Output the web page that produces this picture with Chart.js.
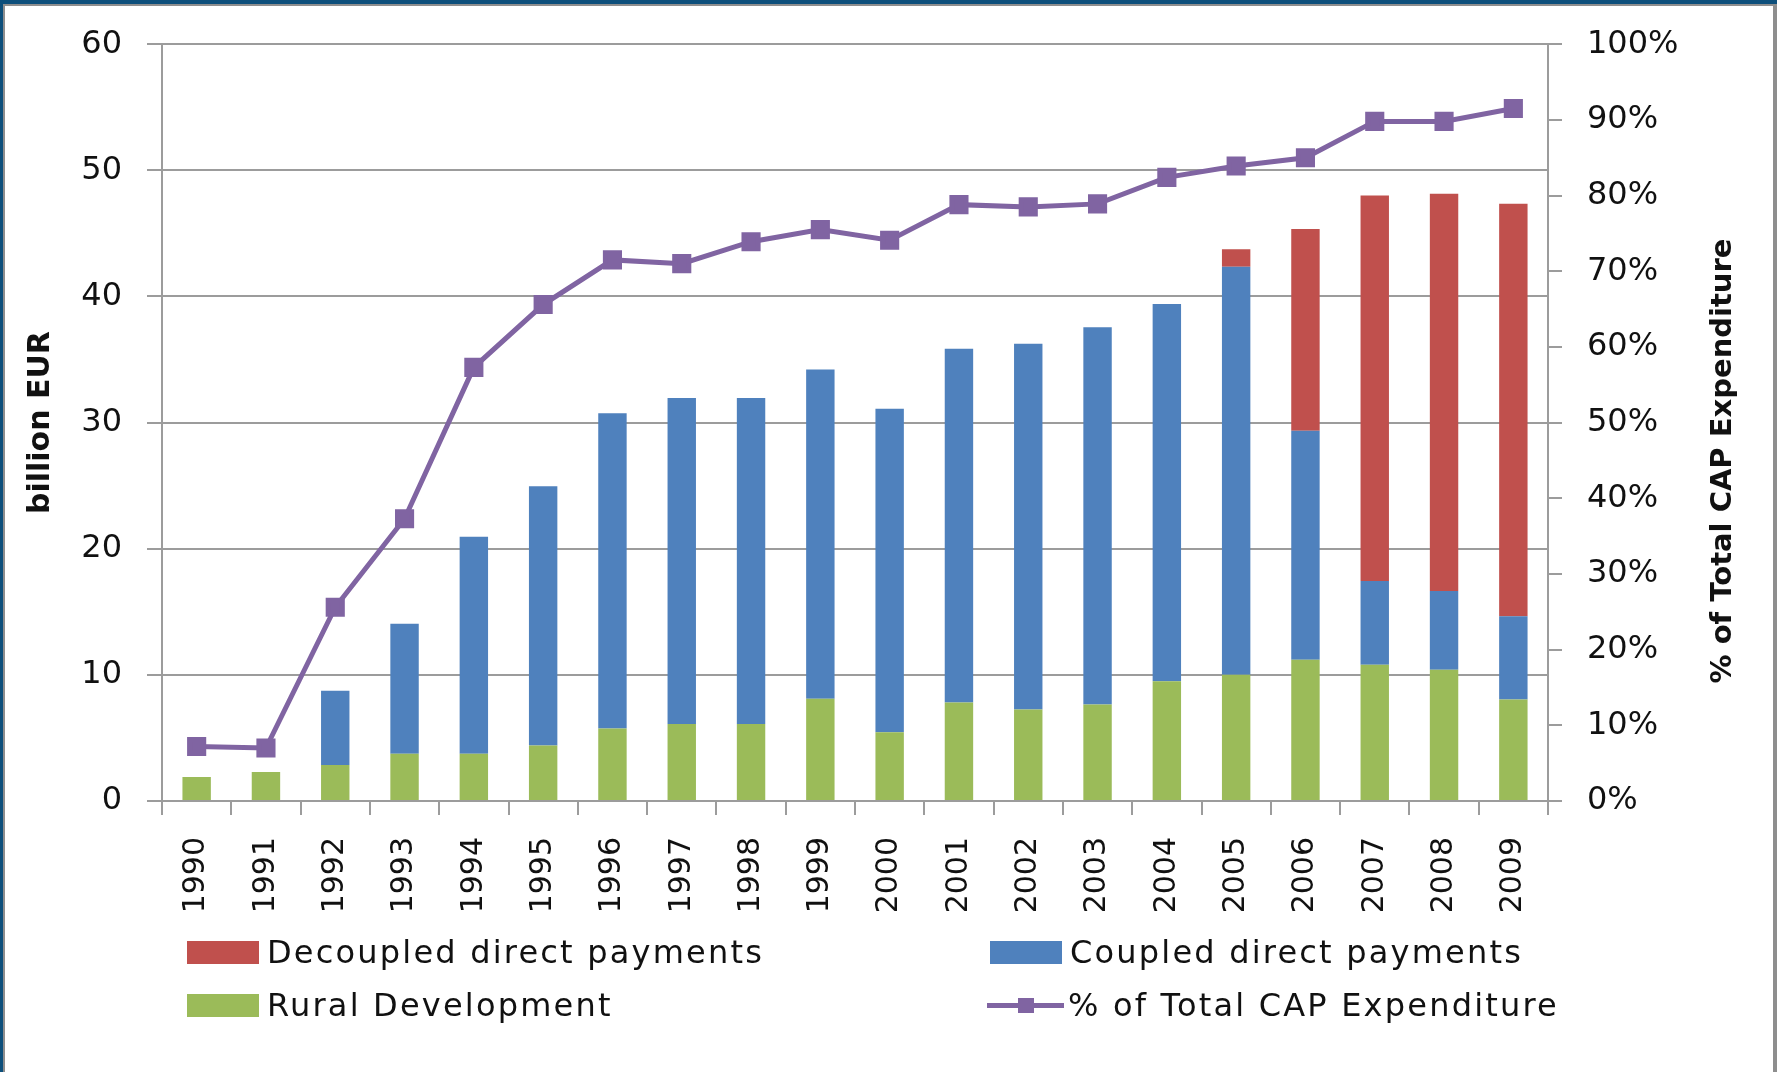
<!DOCTYPE html>
<html lang="en">
<head>
    <meta charset="UTF-8">
    <title>CAP direct payments and rural development</title>
    <script src="https://cdn.jsdelivr.net/npm/chart.js"></script>
    <style>
        body { margin: 0; background: #fff; }
        #wrap { position: relative; width: 1777px; height: 1072px; overflow: hidden; background: #fff; }
        #capChart { position: absolute; left: 0; top: 0; }
        .frame-blue { position: absolute; background: #0d4f7b; }
        .frame-grey { position: absolute; background: #8e8e8e; }
        .legend-item { position: absolute; height: 32px; font: 32px "DejaVu Sans", sans-serif; letter-spacing: 2.2px; color: #111; white-space: nowrap; }
        .legend-item .swatch { position: absolute; top: 5px; width: 72px; height: 23px; }
        .legend-item .lineSw { position: absolute; top: 14px; width: 77px; height: 5px; }
        .legend-item .marker { position: absolute; top: 9px; left: 31px; width: 16px; height: 15px; }
        .legend-item .label { position: absolute; top: 0; line-height: 32px; }
    </style>
</head>
<body>
<div id="wrap">
    <canvas id="capChart" width="1777" height="1072" role="img" aria-label="CAP expenditure by type, 1990-2009"></canvas>
    <div class="frame-blue" style="left:0;top:0;width:1777px;height:4px"></div>
    <div class="frame-grey" style="left:0;top:4px;width:1777px;height:2px"></div>
    <div class="frame-blue" style="left:0;top:0;width:3px;height:1072px"></div>
    <div class="frame-grey" style="left:3px;top:4px;width:2px;height:1068px"></div>
    <div class="frame-grey" style="left:1773px;top:4px;width:4px;height:1068px"></div>
    <div id="legend"></div>
</div>
<script>
    const years = ['1990', '1991', '1992', '1993', '1994', '1995', '1996', '1997', '1998', '1999',
                   '2000', '2001', '2002', '2003', '2004', '2005', '2006', '2007', '2008', '2009'];
    // billion EUR
    const ruralDev  = [1.9, 2.3, 2.85, 3.75, 3.75, 4.4, 5.75, 6.1, 6.1, 8.1,
                       5.45, 7.8, 7.25, 7.65, 9.5, 10.0, 11.2, 10.8, 10.4, 8.05];
    const coupled   = [0, 0, 5.9, 10.3, 17.2, 20.55, 25.0, 25.85, 25.85, 26.1,
                       25.65, 28.05, 29.0, 29.9, 29.9, 32.35, 18.15, 6.65, 6.25, 6.6];
    const decoupled = [0, 0, 0, 0, 0, 0, 0, 0, 0, 0,
                       0, 0, 0, 0, 0, 1.4, 16.0, 30.55, 31.5, 32.7];
    // share of total CAP expenditure, %
    const pctOfCap  = [7.2, 7.0, 25.6, 37.3, 57.3, 65.6, 71.5, 71.0, 73.9, 75.5,
                       74.1, 78.8, 78.5, 78.9, 82.4, 83.9, 85.0, 89.8, 89.8, 91.5];
    const leftTicks = [0, 10, 20, 30, 40, 50, 60];
    const rightTicks = [0, 10, 20, 30, 40, 50, 60, 70, 80, 90, 100];

    const gridGrey = '#9c9c9c';
    const tickFont = { family: 'DejaVu Sans', size: 32 };

    // title on the right axis reads bottom-to-top, so draw it ourselves
    const rightTitle = {
        id: 'rightTitle',
        afterDraw(chart) {
            const ctx = chart.ctx;
            ctx.save();
            ctx.translate(1723, 461);
            ctx.rotate(-Math.PI / 2);
            ctx.font = 'bold 29px "DejaVu Sans"';
            ctx.fillStyle = '#111';
            ctx.textAlign = 'center';
            ctx.textBaseline = 'middle';
            ctx.fillText('% of Total CAP Expenditure', 0, 0);
            ctx.restore();
        }
    };

    const chart = new Chart(document.getElementById('capChart'), {
        data: {
            labels: years,
            datasets: [
                { type: 'line', label: '% of Total CAP Expenditure', data: pctOfCap, yAxisID: 'y1',
                  borderColor: '#8064a2', backgroundColor: '#8064a2', borderWidth: 5,
                  pointStyle: 'rect', pointRadius: 10, pointHoverRadius: 10, tension: 0, order: 0 },
                { type: 'bar', label: 'Rural Development', data: ruralDev, backgroundColor: '#9bbb59', stack: 'cap', order: 1 },
                { type: 'bar', label: 'Coupled direct payments', data: coupled, backgroundColor: '#4f81bd', stack: 'cap', order: 1 },
                { type: 'bar', label: 'Decoupled direct payments', data: decoupled, backgroundColor: '#c0504d', stack: 'cap', order: 1 }
            ]
        },
        options: {
            responsive: false,
            animation: false,
            devicePixelRatio: 1,
            barPercentage: 0.41,
            categoryPercentage: 1.0,
            layout: { padding: { top: 43, left: 0, right: 0, bottom: 0 } },
            plugins: { legend: { display: false }, tooltip: { enabled: false } },
            scales: {
                x: {
                    stacked: true,
                    afterFit: s => { s.height = 271; },
                    grid: { offset: true, drawOnChartArea: false, color: gridGrey, lineWidth: 2, tickLength: 14 },
                    border: { color: gridGrey, width: 2 },
                    ticks: { minRotation: 90, maxRotation: 90, padding: 22, color: '#111', autoSkip: false,
                             font: { family: 'DejaVu Sans', size: 30 } }
                },
                y: {
                    stacked: true,
                    position: 'left',
                    min: leftTicks[0], max: leftTicks[leftTicks.length - 1],
                    afterFit: s => { s.width = 162; },
                    afterBuildTicks: s => { s.ticks = leftTicks.map(v => ({ value: v })); },
                    grid: { color: gridGrey, lineWidth: 2, tickLength: 15 },
                    border: { color: gridGrey, width: 2 },
                    ticks: { padding: 25, color: '#111', font: tickFont },
                    title: { display: true, text: 'billion EUR', color: '#111',
                             font: { family: 'DejaVu Sans', size: 30, weight: 'bold' }, padding: { top: 23 } }
                },
                y1: {
                    position: 'right',
                    min: 0, max: 100,
                    afterFit: s => { s.width = 229; },
                    afterBuildTicks: s => { s.ticks = rightTicks.map(v => ({ value: v })); },
                    grid: { drawOnChartArea: false, color: gridGrey, lineWidth: 2, tickLength: 14 },
                    border: { color: gridGrey, width: 2 },
                    ticks: { padding: 25, color: '#111', font: tickFont, callback: v => v + '%' }
                }
            }
        },
        plugins: [rightTitle]
    });

    // legend laid out in two columns like the original
    const legendSpots = [
        { label: 'Decoupled direct payments', x: 187, y: 936 },
        { label: 'Coupled direct payments', x: 990, y: 936 },
        { label: 'Rural Development', x: 187, y: 989 },
        { label: '% of Total CAP Expenditure', x: 987, y: 989 }
    ];
    const legendBox = document.getElementById('legend');
    legendSpots.forEach(spot => {
        const ds = chart.data.datasets.find(d => d.label === spot.label);
        const item = document.createElement('div');
        item.className = 'legend-item';
        item.style.left = spot.x + 'px';
        item.style.top = spot.y + 'px';
        if (ds.type === 'line') {
            item.innerHTML = '<div class="lineSw" style="left:0;background:' + ds.borderColor + '"></div>' +
                             '<div class="marker" style="background:' + ds.borderColor + '"></div>' +
                             '<span class="label" style="left:81px"></span>';
        } else {
            item.innerHTML = '<div class="swatch" style="left:0;background:' + ds.backgroundColor + '"></div>' +
                             '<span class="label" style="left:80px"></span>';
        }
        item.querySelector('.label').textContent = ds.label;
        legendBox.appendChild(item);
    });
</script>
</body>
</html>
